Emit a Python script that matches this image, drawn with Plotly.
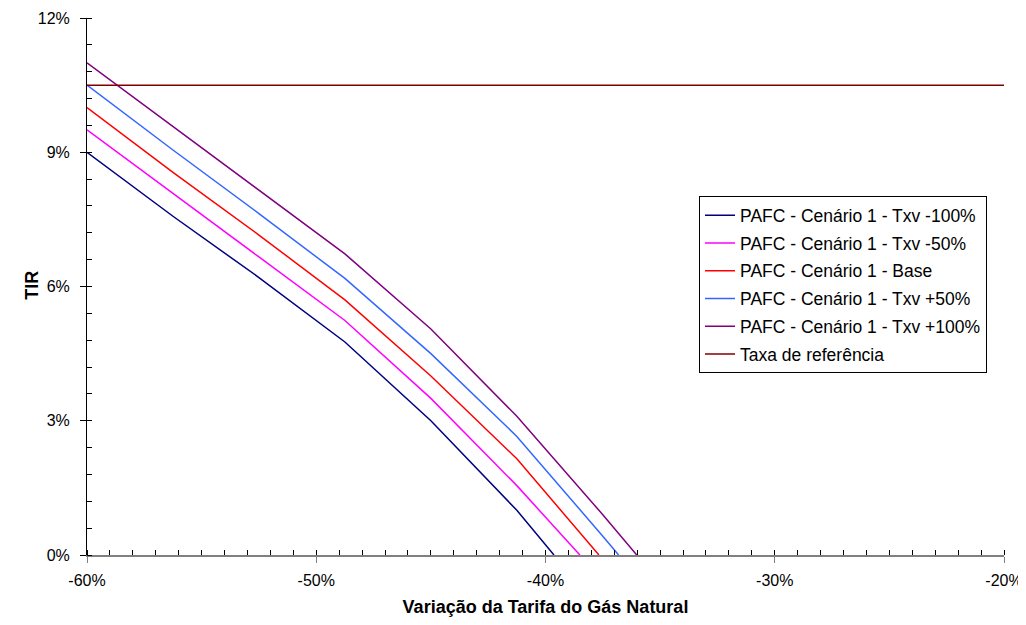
import plotly.graph_objects as go

# TIR (%) for each scenario vs. tariff variation (%); last point of each series is its zero crossing
x_txv_m100 = [-60, -56.25, -52.5, -48.75, -45, -41.25, -39.63]
y_txv_m100 = [9.0, 7.57, 6.2, 4.76, 3.0, 1.0, 0.0]

x_txv_m50 = [-60, -56.25, -52.5, -48.75, -45, -41.25, -38.5]
y_txv_m50 = [9.5, 8.07, 6.66, 5.24, 3.5, 1.55, 0.0]

x_base = [-60, -56.25, -52.5, -48.75, -45, -41.25, -37.67]
y_base = [10.0, 8.55, 7.15, 5.7, 4.0, 2.15, 0.0]

x_txv_p50 = [-60, -56.25, -52.5, -48.75, -45, -41.25, -37.5, -36.81]
y_txv_p50 = [10.5, 9.05, 7.63, 6.18, 4.5, 2.65, 0.42, 0.0]

x_txv_p100 = [-60, -56.25, -52.5, -48.75, -45, -41.25, -37.5, -36.02]
y_txv_p100 = [11.0, 9.58, 8.14, 6.73, 5.05, 3.1, 0.9, 0.0]

x_ref = [-60, -20]
y_ref = [10.5, 10.5]

# tick labels
x_tickvals = [-60, -50, -40, -30, -20]
x_ticktext = ["-60%", "-50%", "-40%", "-30%", "-20%"]
y_tickvals = [0, 3, 6, 9, 12]
y_ticktext = ["0%", "3%", "6%", "9%", "12%"]

names = [
    "PAFC - Cenário 1 - Txv -100%",
    "PAFC - Cenário 1 - Txv -50%",
    "PAFC - Cenário 1 - Base",
    "PAFC - Cenário 1 - Txv +50%",
    "PAFC - Cenário 1 - Txv +100%",
    "Taxa de referência",
]
colors = ["#000080", "#FF00FF", "#FF0000", "#3366FF", "#800080", "#800000"]
series = [
    (x_txv_m100, y_txv_m100),
    (x_txv_m50, y_txv_m50),
    (x_base, y_base),
    (x_txv_p50, y_txv_p50),
    (x_txv_p100, y_txv_p100),
    (x_ref, y_ref),
]

FONT = "Arial, Liberation Sans, sans-serif"

fig = go.Figure()
for i, ((xs, ys), name, col) in enumerate(zip(series, names, colors)):
    fig.add_trace(go.Scatter(
        x=xs, y=ys, mode="lines", name=name,
        line=dict(color=col, width=1.5),
        legendgroup=f"g{i}",
    ))

# page body has an 8px default margin, so the figure is sized/offset to compensate
fig.update_layout(
    width=1026, height=609,
    margin=dict(l=79, r=30, t=10, b=62, autoexpand=False),
    paper_bgcolor="white", plot_bgcolor="white",
    font=dict(family=FONT, size=16, color="black"),
    showlegend=True,
    legend=dict(
        x=0.6674, y=0.668, xanchor="left", yanchor="top",
        bordercolor="black", borderwidth=1, bgcolor="white",
        font=dict(family=FONT, size=17.5, color="black"),
        itemwidth=30, tracegroupgap=2, traceorder="grouped",
    ),
    xaxis=dict(
        range=[-60, -20], tickvals=x_tickvals, ticktext=x_ticktext,
        showgrid=False, zeroline=False, automargin=False,
        showline=True, linecolor="#808080", linewidth=2,
        ticks="outside", ticklen=6, tickcolor="#808080", tickwidth=1,
        ticklabelstandoff=4,
        minor=dict(ticks="inside", ticklen=5, dtick=1, tick0=-60, tickcolor="black", showgrid=False),
        tickfont=dict(family=FONT, size=16),
        title=dict(text="<b>Variação da Tarifa do Gás Natural</b>", font=dict(family=FONT, size=18), standoff=12),
    ),
    yaxis=dict(
        range=[0, 12], tickvals=y_tickvals, ticktext=y_ticktext,
        showgrid=False, zeroline=False, automargin=False,
        showline=True, linecolor="black", linewidth=1,
        ticks="outside", ticklen=6, tickcolor="black", tickwidth=1,
        ticklabelstandoff=7,
        minor=dict(ticks="inside", ticklen=5, dtick=0.6, tick0=0, tickcolor="black", showgrid=False),
        tickfont=dict(family=FONT, size=16),
    ),
    annotations=[dict(
        text="<b>TIR</b>", textangle=-90, showarrow=False,
        xref="paper", yref="paper", x=-0.06, y=0.503,
        xanchor="center", yanchor="middle",
        font=dict(family=FONT, size=18, color="black"),
    )],
)

fig.write_html("out.html")
